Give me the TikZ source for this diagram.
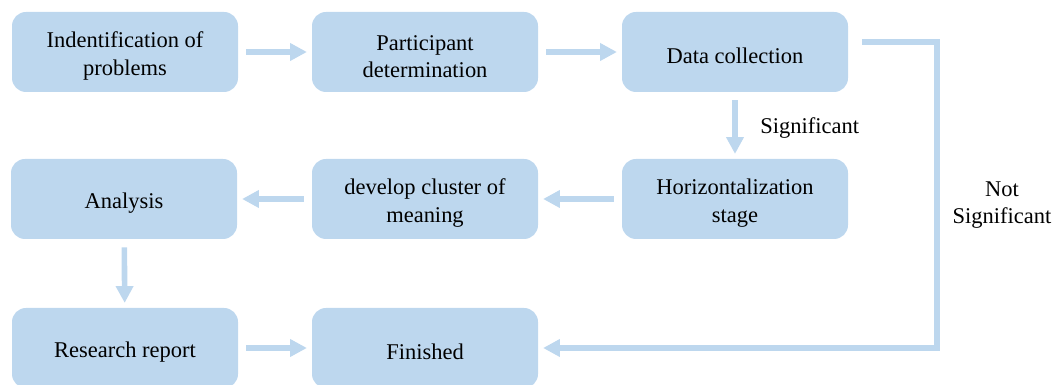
\documentclass[tikz,border=0pt]{standalone}
\usepackage{fontspec}
\setmainfont{Liberation Serif}
\usetikzlibrary{arrows.meta}

\definecolor{boxblue}{RGB}{189,215,238}
\def\boxw{5.65cm}
\def\boxh{2cm}
\def\topstrut{\rule{0pt}{17pt}}

\begin{document}
\begin{tikzpicture}[every node/.style={font=\fontsize{16}{19.5}\selectfont}]
    \tikzstyle{stage}=[rectangle,rounded corners=0.35cm,fill=boxblue,minimum width=\boxw,minimum height=\boxh,align=center,inner sep=0pt]
    \tikzstyle{flow}=[draw=boxblue,line width=0.14cm,-{Triangle[length=0.42cm,width=0.42cm]},shorten <=0.2cm,shorten >=0.12cm]
    \tikzstyle{annot}=[align=center,inner sep=0pt]

    \useasboundingbox (0,0) rectangle (26.35,-9.625);

    % first row
    \node[stage] (ident) at (3.125,-1.3) {\topstrut Indentification of\\problems};
    \node[stage] (part) at (10.625,-1.3) {\topstrut Participant\\determination};
    \node[stage] (data) at (18.375,-1.3) {\topstrut Data collection};

    % second row
    \node[stage] (anal) at (3.1,-4.975) {\topstrut Analysis};
    \node[stage] (clus) at (10.625,-4.975) {\topstrut develop cluster of\\meaning};
    \node[stage] (horiz) at (18.375,-4.975) {\topstrut Horizontalization\\stage};

    % third row
    \node[stage] (report) at (3.125,-8.7) {\topstrut Research report};
    \node[stage] (fin) at (10.625,-8.7) {\topstrut Finished};

    \draw[flow] (ident) -- (part);
    \draw[flow] (part) -- (data);
    \draw[flow] (data) -- (horiz);
    \draw[flow] (horiz) -- (clus);
    \draw[flow] (clus) -- (anal);
    \draw[flow] (anal) -- (report);
    \draw[flow] (report) -- (fin);

    \coordinate (turn) at (23.425,-1.05);
    \draw[flow,rounded corners=0pt,shorten <=0.35cm]
        (data.east |- turn) -- (turn) |- (fin.east);

    \node[annot,anchor=west] (sig) at (19.0,-3.2) {Significant};
    \node[annot] (notsig) at (25.05,-5.13) {Not\\Significant};
\end{tikzpicture}
\end{document}
